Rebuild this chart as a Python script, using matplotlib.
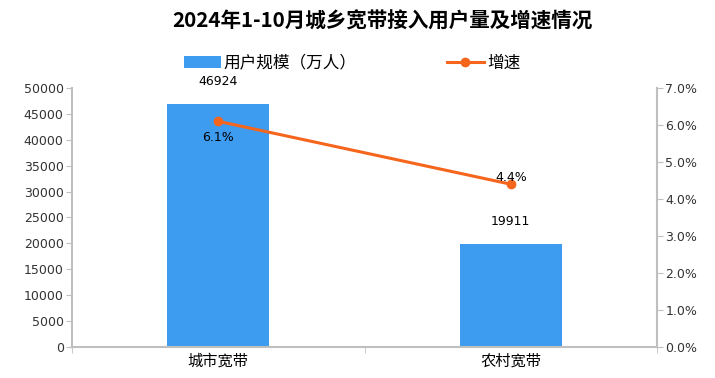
import matplotlib.pyplot as plt
from matplotlib.ticker import FuncFormatter, FixedLocator

plt.rcParams['font.family'] = ['Noto Sans CJK SC', 'DejaVu Sans']

categories = ['城市宽带', '农村宽带']
users = [46924, 19911]
growth = [6.1, 4.4]

bar_color = '#3d9bf0'
line_color = '#f5651c'
axis_color = '#bfbfbf'
num_font = ['DejaVu Sans']

fig = plt.figure(figsize=(7.15, 3.78), dpi=100)
ax = fig.add_axes([72/715, 1-347/378, (657-72)/715, (347-88)/378])
ax2 = ax.twinx()

x = list(range(len(categories)))
bars = ax.bar(x, users, width=0.35, color=bar_color, label='用户规模（万人）', zorder=2)
ln, = ax2.plot(x, growth, color=line_color, lw=2.2, marker='o', ms=6, label='增速', zorder=3)

ax.set_xlim(-0.5, 1.5)
ax.set_ylim(0, 50000)
ax.set_yticks(range(0, 50001, 5000))
ax2.set_ylim(0, 7)
ax2.set_yticks([i for i in range(8)])
ax2.yaxis.set_major_formatter(FuncFormatter(lambda v, p: '%.1f%%' % v))

ax.set_xticks(x)
ax.set_xticklabels(categories, fontsize=11)
ax.xaxis.set_minor_locator(FixedLocator([-0.5, 0.5, 1.5]))
ax.tick_params(axis='x', which='major', length=0, pad=4)
ax.tick_params(axis='x', which='minor', length=4, color=axis_color)
ax.tick_params(axis='y', length=4, color=axis_color, labelsize=9, pad=2)
ax2.tick_params(axis='y', length=4, color=axis_color, labelsize=9, pad=2)
for lab in ax.get_yticklabels() + ax2.get_yticklabels():
    lab.set_family(num_font)
    lab.set_color('#333333')

for a in (ax, ax2):
    a.spines['top'].set_visible(False)
    for s in ('left', 'right', 'bottom'):
        a.spines[s].set_color(axis_color)
        a.spines[s].set_linewidth(1.5)
ax.spines['right'].set_visible(False)
ax2.spines['left'].set_visible(False)
ax2.spines['bottom'].set_visible(False)

for xi, v in zip(x, users):
    ax.text(xi, v + 4400, str(v), ha='center', va='center', fontsize=9, family=num_font)

ax2.text(x[0], growth[0] - 0.43, '%.1f%%' % growth[0], ha='center', va='center', fontsize=9, family=num_font)
ax2.text(x[1], growth[1] + 0.19, '%.1f%%' % growth[1], ha='center', va='center', fontsize=9, family=num_font)

fig.text(0.535, 1-21/378, '2024年1-10月城乡宽带接入用户量及增速情况', ha='center', va='center',
         fontsize=14.8, fontweight='bold')
fig.legend([bars, ln], ['用户规模（万人）', '增速'], loc='center', bbox_to_anchor=(352/715, 1-63/378),
           ncol=2, frameon=False, fontsize=12, columnspacing=5.4, handlelength=2.2, handletextpad=0.2)

fig.savefig('out.png', dpi=100)
